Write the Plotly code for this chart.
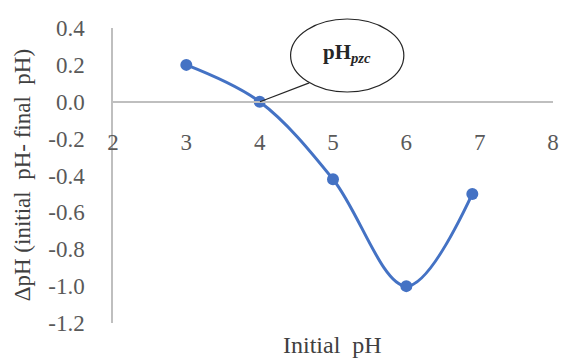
import plotly.graph_objects as go

# Point of zero charge experiment
initial_ph = [3, 4, 5, 6, 6.9]
delta_ph = [0.2, 0.0, -0.42, -1.0, -0.5]

x_ticks = [2, 3, 4, 5, 6, 7, 8]
y_ticks = [0.4, 0.2, 0.0, -0.2, -0.4, -0.6, -0.8, -1.0, -1.2]
y_tick_text = [f"{v:.1f}" for v in y_ticks]

serif = "Liberation Serif"
tick_color = "#595959"

fig = go.Figure()
fig.add_trace(go.Scatter(
    x=initial_ph, y=delta_ph,
    mode="lines+markers",
    line=dict(color="#4472C4", width=3, shape="spline", smoothing=1),
    marker=dict(color="#4472C4", size=12),
    showlegend=False,
))

fig.update_layout(
    width=565, height=358,
    margin=dict(l=113, r=6, t=28, b=35),
    paper_bgcolor="white", plot_bgcolor="white",
    xaxis=dict(
        range=[2, 8], tickvals=x_ticks, ticktext=[str(v) for v in x_ticks],
        anchor="free", position=0.75,
        showline=True, linecolor="#BFBFBF", linewidth=1.5,
        showgrid=False, zeroline=False,
        ticks="outside", ticklen=20, tickcolor="rgba(0,0,0,0)",
        tickfont=dict(family=serif, size=23, color=tick_color),
    ),
    yaxis=dict(
        range=[-1.2, 0.4], tickvals=y_ticks, ticktext=y_tick_text,
        showline=True, linecolor="#BFBFBF", linewidth=1.5,
        showgrid=False, zeroline=False,
        ticks="outside", ticklen=22, tickcolor="rgba(0,0,0,0)",
        tickfont=dict(family=serif, size=23, color=tick_color),
    ),
)

# Axis titles
fig.add_annotation(
    text="Initial  pH", xref="paper", yref="paper", x=0.498, y=-0.025,
    xanchor="center", yanchor="top", showarrow=False,
    font=dict(family=serif, size=24, color="#404040"),
)
fig.add_annotation(
    text="ΔpH (initial  pH- final  pH)", xref="paper", yref="paper",
    x=-0.205, y=0.5, xanchor="center", yanchor="middle",
    textangle=-90, showarrow=False,
    font=dict(family=serif, size=23, color="#404040"),
)

# Callout marking the point of zero charge
fig.add_shape(
    type="line", xref="paper", yref="paper",
    x0=0.446, y0=0.814, x1=0.334, y1=0.75,
    line=dict(color="#262626", width=1.2),
)
fig.add_shape(
    type="circle", xref="paper", yref="paper",
    x0=0.4036, x1=0.661, y0=0.783, y1=1.0305,
    line=dict(color="#262626", width=1.2), fillcolor="white",
)
fig.add_annotation(
    text="<b>pH<sub><i>pzc</i></sub></b>", xref="paper", yref="paper",
    x=0.532, y=0.915, xanchor="center", yanchor="middle", showarrow=False,
    font=dict(family=serif, size=21, color="#262626"),
)

fig.write_html("out.html")
